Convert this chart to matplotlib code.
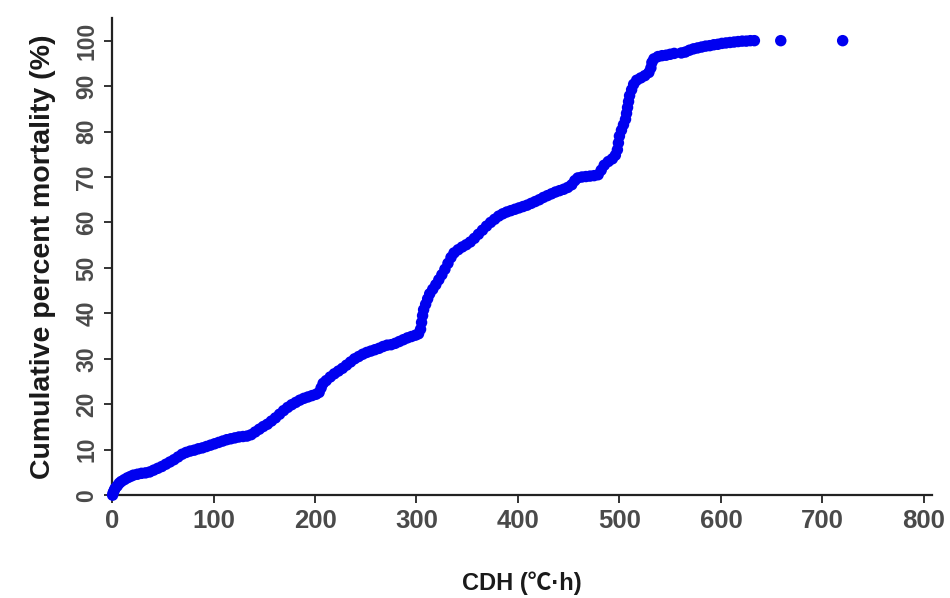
#!/usr/bin/env python3
"""plot.py - cumulative percent mortality vs CDH scatter."""

import matplotlib
matplotlib.use("Agg")
import matplotlib.pyplot as plt

plt.rcParams["font.family"] = ["Liberation Sans", "Noto Sans CJK SC", "DejaVu Sans"]

# ── data ─────────────────────────────────────────────────────────────────────
cdh = [
    0.5, 1, 2, 3, 5, 7, 9, 12, 15, 18, 21, 25, 29, 33, 37, 41, 45, 49, 53, 57,
    61, 65, 69, 73, 77, 81, 85, 89, 93, 97, 101, 105, 109, 113, 117, 121, 125,
    129, 133, 137, 141, 145, 149, 153, 157, 161, 165, 169, 173, 177, 181, 185,
    189, 193, 197, 201, 204, 206, 208, 211, 215, 219, 223, 227, 231, 235, 239,
    243, 247, 251, 255, 259, 263, 267, 271, 275, 279, 283, 287, 291, 295, 299,
    302, 304, 305, 306, 307, 309, 311, 313, 316, 319, 322, 325, 328, 331, 334,
    337, 341, 345, 349, 353, 357, 361, 365, 369, 373, 377, 381, 385, 389, 393,
    397, 401, 405, 409, 413, 417, 421, 425, 429, 433, 437, 441, 445, 449, 453,
    456, 459, 463, 467, 471, 475, 479, 482, 485, 489, 493, 496, 498, 499, 500,
    502, 504, 506, 507, 508, 509, 510, 512, 514, 517, 521, 525, 529, 531, 532,
    534, 538, 542, 546, 550, 554, 561, 565, 569, 573, 577, 581, 585, 589, 593,
    597, 601, 605, 609, 613, 617, 621, 625, 629, 633, 659, 720,
]
mortality = [
    0.0, 0.5, 1.0, 1.5, 2.0, 2.6, 3.0, 3.4, 3.8, 4.1, 4.4, 4.6, 4.8, 4.9, 5.1,
    5.5, 5.9, 6.3, 6.8, 7.3, 7.8, 8.4, 9.0, 9.4, 9.7, 9.9, 10.2, 10.4, 10.7,
    11.0, 11.3, 11.6, 11.9, 12.2, 12.4, 12.6, 12.8, 12.9, 13.0, 13.3, 13.9,
    14.5, 15.1, 15.6, 16.3, 17.0, 17.8, 18.6, 19.3, 19.9, 20.4, 20.9, 21.3,
    21.6, 21.9, 22.2, 22.6, 23.6, 24.6, 25.2, 26.0, 26.7, 27.3, 27.9, 28.6,
    29.3, 30.0, 30.5, 31.0, 31.4, 31.7, 32.0, 32.3, 32.7, 33.0, 33.1, 33.4,
    33.8, 34.2, 34.6, 34.9, 35.2, 35.5, 36.5, 38.0, 39.5, 40.8, 42.0, 43.2,
    44.3, 45.3, 46.3, 47.4, 48.5, 49.7, 51.0, 52.3, 53.3, 54.0, 54.6, 55.1,
    55.7, 56.5, 57.4, 58.3, 59.2, 60.0, 60.7, 61.4, 61.9, 62.3, 62.6, 62.9,
    63.2, 63.5, 63.8, 64.2, 64.6, 65.0, 65.5, 65.9, 66.3, 66.7, 67.0, 67.3,
    67.7, 68.3, 69.2, 69.8, 70.0, 70.1, 70.2, 70.3, 70.5, 71.5, 72.6, 73.4,
    74.0, 74.8, 76.0, 77.5, 79.0, 80.3, 81.5, 82.7, 84.0, 85.3, 86.6, 87.9,
    89.2, 90.4, 91.3, 91.8, 92.3, 93.0, 94.0, 95.2, 96.0, 96.5, 96.7, 96.8,
    97.0, 97.2, 97.3, 97.5, 97.9, 98.2, 98.4, 98.6, 98.8, 98.9, 99.1, 99.2,
    99.4, 99.5, 99.6, 99.7, 99.8, 99.9, 99.9, 100.0, 100.0, 100.0, 100.0,
]
x_ticks = [0, 100, 200, 300, 400, 500, 600, 700, 800]
y_ticks = [0, 10, 20, 30, 40, 50, 60, 70, 80, 90, 100]

TICK_COLOR = "#4a4a4a"
LABEL_COLOR = "#1a1a1a"

fig = plt.figure(figsize=(9.5, 5.98), dpi=100)
ax = fig.add_axes([0.118, 0.172, 0.863, 0.798])

ax.scatter(cdh, mortality, s=68, color="#0000f0", edgecolors="none",
           zorder=3, clip_on=False)

ax.set_xlim(0, 808)
ax.set_ylim(0, 105)
ax.set_xticks(x_ticks)
ax.set_yticks(y_ticks)

for side in ("top", "right"):
    ax.spines[side].set_visible(False)
for side in ("left", "bottom"):
    ax.spines[side].set_linewidth(1.6)
    ax.spines[side].set_color("#222222")

ax.tick_params(axis="both", direction="out", length=6, width=1.4,
               color="#333333", labelcolor=TICK_COLOR, pad=4)
ax.tick_params(axis="x", labelsize=18.5)
ax.tick_params(axis="y", labelsize=16.5)
for lbl in ax.get_xticklabels() + ax.get_yticklabels():
    lbl.set_fontweight("bold")
for lbl in ax.get_yticklabels():
    lbl.set_rotation(90)
    lbl.set_va("center")

ax.set_xlabel("CDH (℃·h)", fontsize=17, fontweight="bold",
              color=LABEL_COLOR, labelpad=28)
ax.set_ylabel("Cumulative percent mortality (%)", fontsize=20.5,
              fontweight="bold", color=LABEL_COLOR, labelpad=14)

fig.savefig("out.png", dpi=100)
